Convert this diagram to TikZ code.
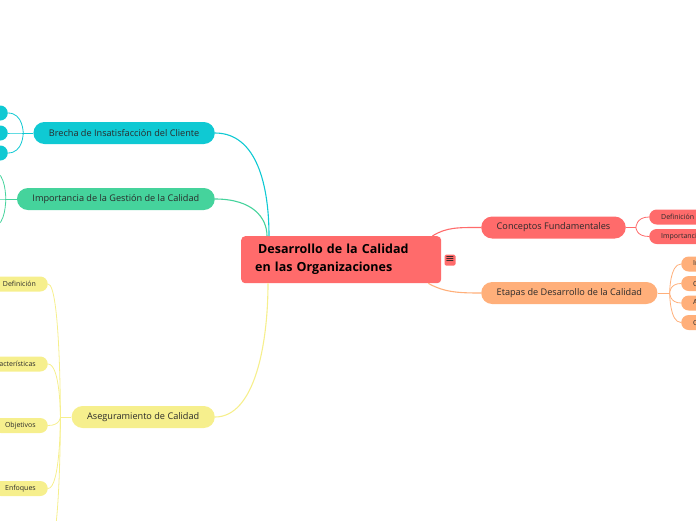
\documentclass[tikz,border=0pt]{standalone}
\usepackage{fontspec}
\setmainfont{Open Sans}
\newfontfamily\symfont{DejaVu Sans}
\definecolor{cRed}{HTML}{FF6B6B}
\definecolor{cCyan}{HTML}{0FC9D3}
\definecolor{cGreen}{HTML}{45D39C}
\definecolor{cYellow}{HTML}{F6EF8D}
\definecolor{cOrange}{HTML}{FFAF7A}
\definecolor{cText}{HTML}{2A2A2A}
\begin{document}
\begin{tikzpicture}[x=1pt,y=-1pt,
  mainbox/.style={rounded corners=11pt, minimum height=22pt, inner xsep=15.5pt, inner ysep=0pt, font=\fontsize{9.15}{10}\selectfont, text=cText},
  subbox/.style={rounded corners=7.5pt, minimum height=15pt, inner xsep=12pt, inner ysep=0pt, font=\fontsize{7}{8}\selectfont, text=cText},
  link/.style={line width=1.1pt},
  sublink/.style={line width=0.8pt},
]
\useasboundingbox (0,0) rectangle (696,520);

% central node
\node[fill=cRed, rounded corners=4pt, minimum width=200pt, minimum height=47pt,
      inner xsep=14pt, text width=172pt, align=left, anchor=north west,
      font=\bfseries\fontsize{12.5}{18}\selectfont, text=black] (root) at (241,236)
  {\hspace{3pt}Desarrollo de la Calidad\\en las Organizaciones};
\node[fill=cRed, rounded corners=1.5pt, minimum size=11pt, inner sep=0pt,
      font=\symfont\fontsize{11}{11}\selectfont, text=black!85] (menu) at (450,260) {≡};

% main branches
\node[mainbox, fill=cCyan, anchor=east] (brecha) at (215,133) {Brecha de Insatisfacción del Cliente};
\node[mainbox, fill=cGreen, anchor=east] (impor) at (215,199) {Importancia de la Gestión de la Calidad};
\node[mainbox, fill=cYellow, anchor=east] (asegu) at (215,417) {Aseguramiento de Calidad};
\node[mainbox, fill=cRed, anchor=west] (concep) at (481,227.5) {Conceptos Fundamentales};
\node[mainbox, fill=cOrange, anchor=west] (etapas) at (481,293) {Etapas de Desarrollo de la Calidad};

% main connectors
\draw[link, cCyan] (brecha.east) .. controls +(42,0) and +(0,-50) .. ([xshift=28pt]root.north west);
\draw[link, cGreen] (impor.east) .. controls +(38,0) and +(0,-18) .. ([xshift=26pt]root.north west);
\draw[link, cYellow] (asegu.east) .. controls +(40,0) and +(0,60) .. ([xshift=27pt]root.south west);
\draw[link, cRed] ([xshift=-9pt]root.north east) .. controls +(14,-9) and +(-22,0) .. (concep.west);
\draw[link, cOrange] ([xshift=-13pt]root.south east) .. controls +(16,9) and +(-22,0) .. (etapas.west);

% Brecha children
\foreach \n/\y in {b1/113, b2/133, b3/153}
  \node[subbox, fill=cCyan, minimum width=40pt, anchor=east] (\n) at (8,\y) {};
\draw[sublink, cCyan] (brecha.west) -- ++(-10,0) coordinate (bf);
\foreach \n in {b1,b2,b3}
  \draw[sublink, cCyan] (\n.east) .. controls (bf |- \n.east) and (bf) .. (bf);

% Importancia children (outside the picture)
\coordinate (i1) at (-6,172);
\coordinate (i2) at (-6,199);
\coordinate (i3) at (-6,226);
\draw[sublink, cGreen] (impor.west) -- ++(-11,0) coordinate (gf);
\foreach \n in {i1,i2,i3}
  \draw[sublink, cGreen] (\n) .. controls (gf |- \n) and (gf) .. (gf);

% Aseguramiento children
\node[subbox, fill=cYellow, anchor=east] (a1) at (48,284) {Definición};
\node[subbox, fill=cYellow, anchor=east] (a2) at (48,364) {Características};
\node[subbox, fill=cYellow, anchor=east] (a3) at (48,425.5) {Objetivos};
\node[subbox, fill=cYellow, anchor=east] (a4) at (48,488.5) {Enfoques};
\coordinate (a5) at (48,552);
\draw[sublink, cYellow] (asegu.west) -- ++(-11,0) coordinate (yf);
\foreach \n in {a1,a2,a3,a4}
  \draw[sublink, cYellow] (\n.east) .. controls (yf |- \n.east) and (yf) .. (yf);
\draw[sublink, cYellow] (a5) .. controls (yf |- a5) and (yf) .. (yf);

% Conceptos children
\node[subbox, fill=cRed, anchor=west] (c1) at (649,217) {Definición de Calidad};
\node[subbox, fill=cRed, anchor=west] (c2) at (649,236.5) {Importancia de la Calidad};
\draw[sublink, cRed] (concep.east) -- ++(10,0) coordinate (rf);
\foreach \n in {c1,c2}
  \draw[sublink, cRed] (\n.west) .. controls (rf |- \n.west) and (rf) .. (rf);

% Etapas children
\node[subbox, fill=cOrange, anchor=west] (e1) at (681,264) {Inspección};
\node[subbox, fill=cOrange, anchor=west] (e2) at (681,283.5) {Control Estadístico};
\node[subbox, fill=cOrange, anchor=west] (e3) at (681,303) {Aseguramiento};
\node[subbox, fill=cOrange, anchor=west] (e4) at (681,322.5) {Gestión Total};
\draw[sublink, cOrange] (etapas.east) -- ++(12,0) coordinate (of);
\foreach \n in {e1,e2,e3,e4}
  \draw[sublink, cOrange] (\n.west) .. controls (of |- \n.west) and (of) .. (of);
\end{tikzpicture}
\end{document}
